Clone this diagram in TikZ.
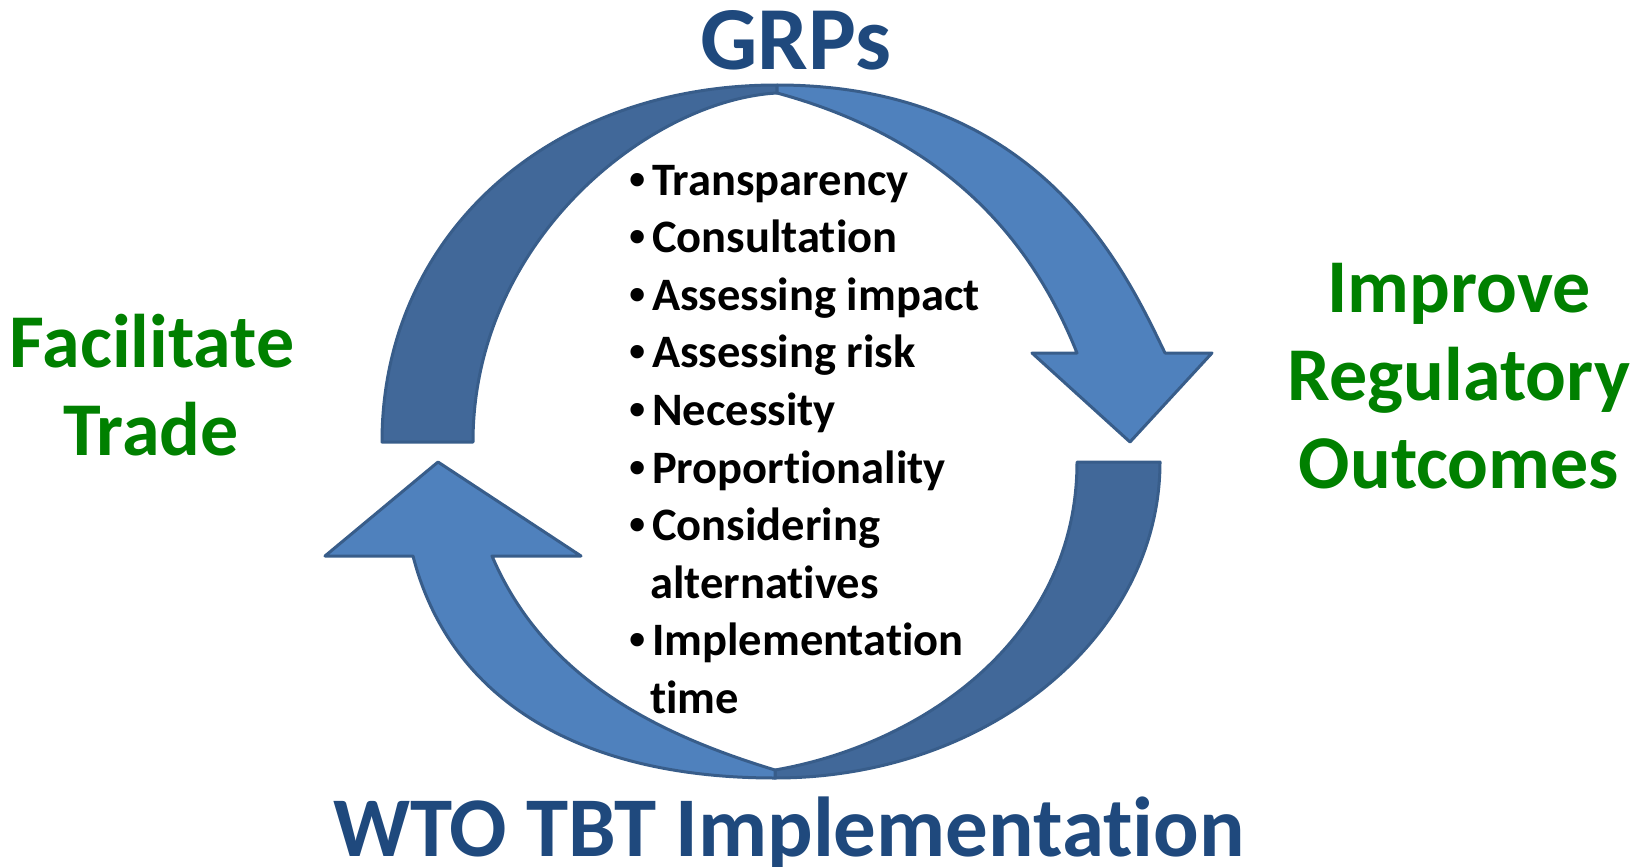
\documentclass[tikz,border=0pt]{standalone}
\usepackage{fontspec}
\setmainfont{Carlito}[Ligatures={NoCommon,NoContextual}]
\newfontfamily\bulletfont{Liberation Sans}
\definecolor{bandline}{RGB}{56,93,138}
\definecolor{bandback}{RGB}{65,104,153}
\definecolor{bandfront}{RGB}{79,129,189}
\definecolor{titleblue}{RGB}{31,73,125}
\definecolor{goalgreen}{RGB}{0,128,0}
% bullet hanging to the left of a list line
\newcommand{\bul}{\llap{{\bulletfont •}\kern6pt}}
% plain "t" followed by "i", kept apart so that no ligature forms
\newcommand{\tiplain}{t\kern0pt i}
\begin{document}
\begin{tikzpicture}[x=1pt,y=-1pt,
  band/.style={draw=bandline, line width=3pt, line join=round},
  title/.style={anchor=base, inner sep=0pt, text=titleblue,
    font=\fontsize{#1}{#1}\selectfont\bfseries},
  goal/.style={anchor=base, inner sep=0pt, text=goalgreen,
    font=\fontsize{76}{76}\selectfont\bfseries},
  item/.style={anchor=base west, inner sep=0pt, text=black,
    font=\fontsize{46.5}{46.5}\selectfont\bfseries}]
\useasboundingbox (0,0) rectangle (1641,867);

% upper arrow: back half
\draw[band, fill=bandback] (382,442) .. controls (382,235) and (549,85) .. (777,85)
  -- (777,93) .. controls (650,100) and (473,240) .. (473,442) -- cycle;
% upper arrow: front half with head
\draw[band, fill=bandfront] (777,85) .. controls (1040,85) and (1125,270) .. (1165,353)
  -- (1212,353) -- (1130,442) -- (1032,353) -- (1077,353)
  .. controls (1033,243) and (950,140) .. (777,93) -- cycle;

% lower arrow: back half
\draw[band, fill=bandback] (1160,462) .. controls (1160,636) and (988,778) .. (775,778)
  -- (775,770) .. controls (920,745) and (1077,640) .. (1077,462) -- cycle;
% lower arrow: front half with head
\draw[band, fill=bandfront] (775,778) .. controls (580,778) and (450,700) .. (413,556)
  -- (325,556) -- (438,462) -- (581,556) -- (492,556)
  .. controls (545,680) and (660,735) .. (775,770) -- cycle;

% titles
\node[title=90] (grps) at (796,70) {GRPs};
\node[title=85] (wto) at (789,856) {WTO TBT Implementa\tiplain on};

% outcomes on both sides
\node[goal] (fac1) at (152,367) {Facilitate};
\node[goal] (fac2) at (151,455) {Trade};
\node[goal] (imp1) at (1459,312) {Improve};
\node[goal] (imp2) at (1459,400) {Regulatory};
\node[goal] (imp3) at (1459,488) {Outcomes};

% list of good regulatory practices
\node[item] (p1) at (652,195.0) {\bul Transparency};
\node[item] (p2) at (652,252.6) {\bul Consulta\tiplain on};
\node[item] (p3) at (652,310.2) {\bul Assessing impact};
\node[item] (p4) at (652,367.8) {\bul Assessing risk};
\node[item] (p5) at (652,425.4) {\bul Necessity};
\node[item] (p6) at (652,483.0) {\bul Propor\tiplain onality};
\node[item] (p7) at (652,540.6) {\bul Considering};
\node[item] (p7b) at (650,598.2) {alterna\tiplain ves};
\node[item] (p8) at (652,655.8) {\bul Implementa\tiplain on};
\node[item] (p8b) at (650,713.4) {\tiplain me};
\end{tikzpicture}
\end{document}
